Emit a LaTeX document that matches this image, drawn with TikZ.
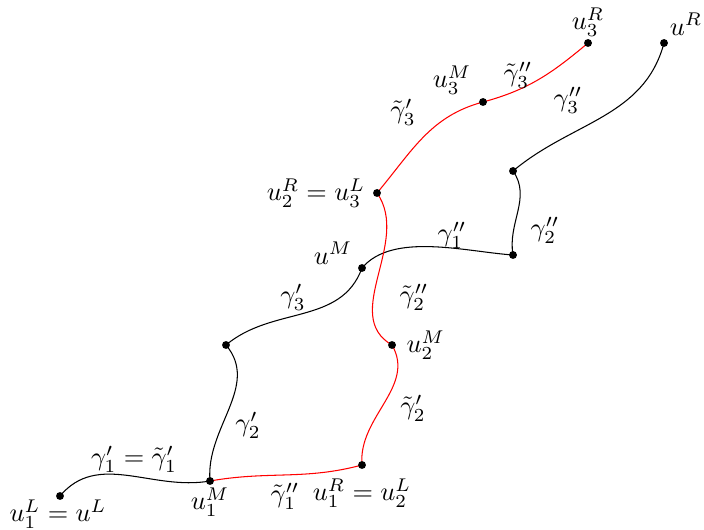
\documentclass[tikz,border=0pt]{standalone}
\begin{document}
\begin{tikzpicture}[x=0.38pt, y=0.38pt,
  punto/.style={circle, fill=black, inner sep=0pt, minimum size=3pt},
  tilde/.style={red}]

  \useasboundingbox (0,0) rectangle (704,529);

  % --- Puntos ---
  \coordinate (uL)  at (60,33);
  \coordinate (u1M) at (210,48);
  \coordinate (u1R) at (362,64);
  \coordinate (u2M) at (392,184);
  \coordinate (u3L) at (377,336);
  \coordinate (u3M) at (483,427);
  \coordinate (u3R) at (588,486);
  \coordinate (uR)  at (664,486);
  \coordinate (p1)  at (226,184);
  \coordinate (uM)  at (362,261);
  \coordinate (p2)  at (513,274);
  \coordinate (p3)  at (513,358);

  % --- Curvas negras ---
  \draw (uL)  to[out=50,  in=190] (u1M);
  \draw (u1M) to[out=95,  in=-50] (p1);
  \draw (p1)  to[out=40,  in=-110] (uM);
  \draw (uM)  to[out=50,  in=176, looseness=0.8] (p2);
  \draw (p2)  to[out=100, in=-55] (p3);
  \draw (p3)  to[out=40,  in=-105] (uR);

  % --- Curvas rojas (tilde) ---
  \draw[tilde] (u1M) to[out=10,  in=195] (u1R);
  \draw[tilde] (u1R) to[out=95,  in=-60] (u2M);
  \draw[tilde] (u2M) to[out=150, in=-55] (u3L);
  \draw[tilde] (u3L) to[out=50,  in=195] (u3M);
  \draw[tilde] (u3M) to[out=15,  in=220] (u3R);

  % --- Marcas ---
  \foreach \p in {uL,u1M,u1R,u2M,u3L,u3M,u3R,uR,p1,uM,p2,p3}
    \node[punto] at (\p) {};

  % --- Etiquetas de puntos ---
  \node (tuL)  at (58,15)   {$u_1^L = u^L$};
  \node (tu1M) at (210,27)  {$u_1^M$};
  \node (tu1R) at (362,36)  {$u_1^R = u_2^L$};
  \node[right=2pt] (tu2M) at (u2M) {$u_2^M$};
  \node[left=1pt]  (tu3L) at (u3L) {$u_2^R = u_3^L$};
  \node (tuM)  at (333,276) {$u^M$};
  \node (tu3M) at (452,449) {$u_3^M$};
  \node (tu3R) at (588,507) {$u_3^R$};
  \node (tuR)  at (686,505) {$u^R$};

  % --- Etiquetas de curvas ---
  \node (g1)  at (134,70)  {$\gamma_1' = \tilde\gamma_1'$};
  \node (g2)  at (248,104) {$\gamma_2'$};
  \node (g3)  at (293,232) {$\gamma_3'$};
  \node (g1b) at (452,294) {$\gamma_1''$};
  \node (g2b) at (545,299) {$\gamma_2''$};
  \node (g3b) at (568,429) {$\gamma_3''$};
  \node (t1b) at (285,33)  {$\tilde\gamma_1''$};
  \node (t2)  at (413,121) {$\tilde\gamma_2'$};
  \node (t2b) at (414,232) {$\tilde\gamma_2''$};
  \node (t3)  at (403,417) {$\tilde\gamma_3'$};
  \node (t3b) at (518,454) {$\tilde\gamma_3''$};

\end{tikzpicture}
\end{document}
